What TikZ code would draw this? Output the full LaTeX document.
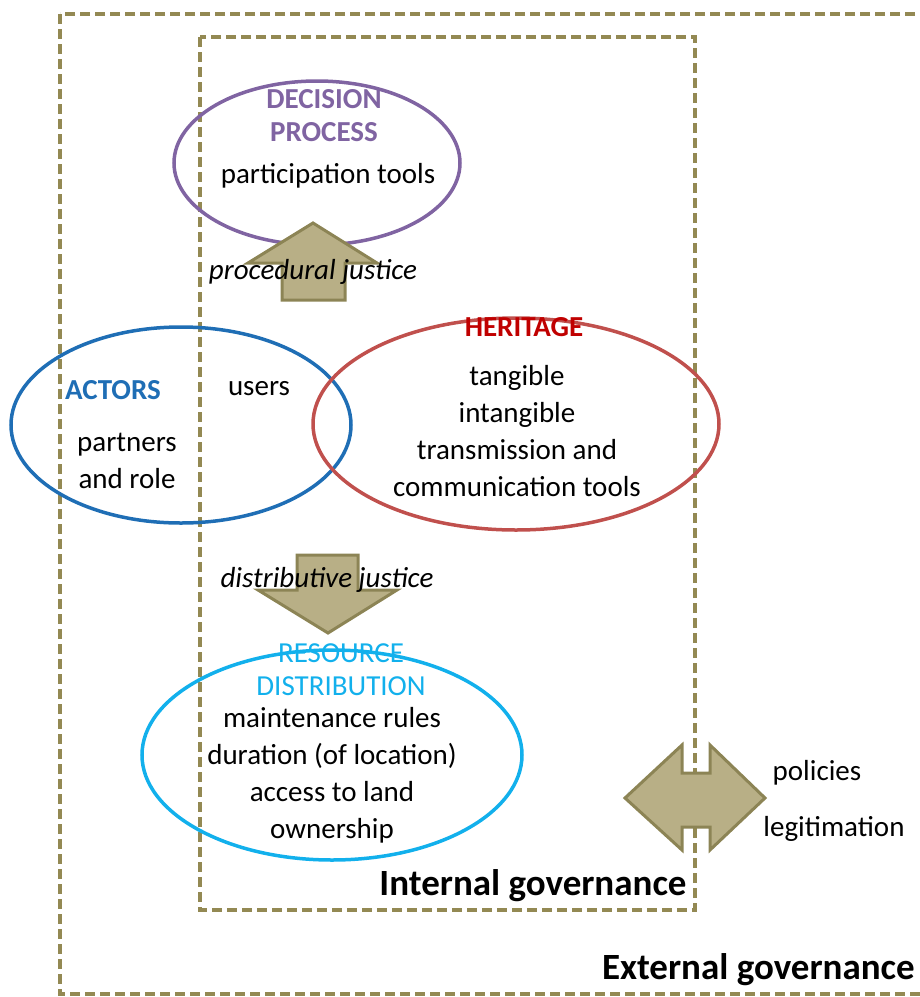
\documentclass[tikz,border=0pt]{standalone}
\usepackage{fontspec}
\setmainfont{Carlito}
\usepackage{xcolor}
\usetikzlibrary{shapes.geometric, positioning}

\definecolor{olive}{HTML}{938953}
\definecolor{tanfill}{HTML}{B8AF86}
\definecolor{tanline}{HTML}{8C8455}
\definecolor{purp}{HTML}{8064A2}
\definecolor{actblue}{HTML}{1F6EB5}
\definecolor{herred}{HTML}{C0504D}
\definecolor{herdark}{HTML}{C00000}
\definecolor{rescyan}{HTML}{12B0EC}

\begin{document}
\begin{tikzpicture}[x=1pt, y=-1pt, font=\fontsize{29}{37}\selectfont]
		\tikzstyle{gov} = [draw=olive, line width=3.5pt, dash pattern=on 10pt off 5pt]
		\tikzstyle{area} = [ellipse, line width=3.5pt, inner sep=0pt]
		\tikzstyle{title} = [font=\fontsize{29}{33}\selectfont\bfseries, align=center]
		\tikzstyle{item} = [align=center, inner sep=0pt]
		\tikzstyle{just} = [font=\fontsize{29}{35}\selectfont\itshape, inner sep=0pt]
		\tikzstyle{blockarrow} = [fill=tanfill, draw=tanline, line width=3pt, line join=miter]
		\tikzstyle{govlabel} = [font=\fontsize{37}{40}\selectfont\bfseries, inner sep=0pt]
		
		\useasboundingbox (0, 0) rectangle (920, 997);
		\clip (0, 0) rectangle (920, 997);
		
		\draw[gov] (60, 14) rectangle (940, 994);
		\draw[gov] (200, 37) rectangle (695, 910);
		
		\node[area, draw=purp, minimum width=286pt, minimum height=164pt]		at (317, 163)	(decision)	{};
		\node[area, draw=actblue, minimum width=340pt, minimum height=196pt]	at (181, 425)	(actors)	{};
		\node[area, draw=herred, minimum width=406pt, minimum height=212pt]	at (516, 424)	(heritage)	{};
		\node[area, draw=rescyan, minimum width=380pt, minimum height=210pt]	at (332, 755)	(resource)	{};
		
		\draw[blockarrow] (313, 223) -- (377, 263) -- (345, 263) -- (345, 300) -- (282, 300) -- (282, 263) -- (248, 263) -- cycle;
		\draw[blockarrow] (297, 555) -- (358, 555) -- (358, 590) -- (397, 590) -- (328, 633) -- (258, 590) -- (297, 590) -- cycle;
		\draw[blockarrow] (625, 798) -- (682, 745) -- (682, 773) -- (710, 773) -- (710, 745) -- (765, 798) -- (710, 850) -- (710, 827) -- (682, 827) -- (682, 850) -- cycle;
		
		\node[title, text=purp]	at (324, 116)	(dectitle)	{DECISION\\PROCESS};
		\node[item]		at (328, 176)	(tools)		{participation tools};
		\node[just]		at (313, 272)	(procjust)	{procedural justice};
		
		\node[title, text=actblue]	at (113, 390)	(acttitle)	{ACTORS};
		\node[item]		at (259, 389)	(users)		{users};
		\node[item]		at (127, 461)	(partners)	{partners\\and role};
		
		\node[title, text=herdark]	at (524, 327)	(hertitle)	{HERITAGE};
		\node[item]		at (517, 431)	(herlist)	{tangible\\intangible\\transmission and\\communication tools};
		
		\node[just]		at (327, 580)	(distjust)	{distributive justice};
		
		\node[title, text=rescyan, font=\fontsize{29}{33}\selectfont]	at (341, 670)	(restitle)	{RESOURCE\\DISTRIBUTION};
		\node[item]		at (332, 775)	(reslist)	{maintenance rules\\duration (of location)\\access to land\\ownership};
		
		\node[item]		at (817, 773)	(policies)	{policies};
		\node[item]		at (834, 829)	(legit)		{legitimation};
		
		\node[govlabel]	at (533, 886)	(internal)	{Internal governance};
		\node[govlabel, anchor=east]	at (915, 970)	(external)	{External governance};
	\end{tikzpicture}
\end{document}
